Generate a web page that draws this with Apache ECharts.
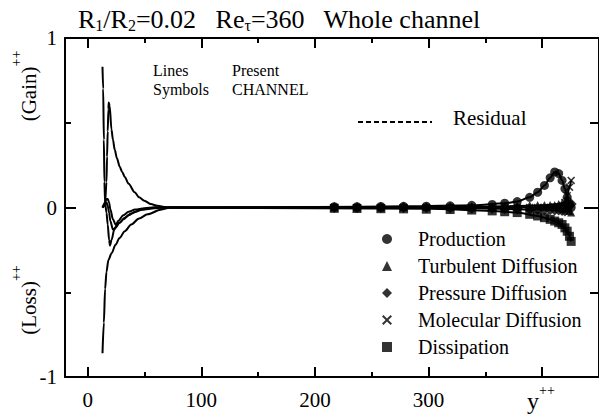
<!DOCTYPE html>
<html><head><meta charset="utf-8">
<script src="https://cdn.jsdelivr.net/npm/echarts@6/dist/echarts.min.js"></script>
<style>html,body{margin:0;padding:0;background:#fff}#c{width:599px;height:419px}</style>
</head><body><div id="c"></div>
<script>
const FONT = 'Liberation Serif';
// ticks / labels
const xTicksMinor = [0, 50, 100, 150, 200, 250, 300, 350, 400];
const xTicksMajor = [0, 100, 200, 300, 400];
const xTickLabels = [0, 100, 200, 300];
const yTicksMinor = [-0.5, 0.5];
const yTicksMajor = [0];
const yTickLabels = [-1, 0, 1];
const termNames = ['Production', 'Turbulent Diffusion', 'Pressure Diffusion', 'Molecular Diffusion', 'Dissipation'];

// Present (lines)
const prodLineX = [13,14.2,15.3,16.5,17,17.6,18.2,18.5,19.3,20.9,22.2,23.8,25.7,28.2,30.3,32.6,36,41.3,45.2,49.8,55.6,61.3,70.5,100,200,280,340,367,378,389,396,402,407,411,414.5,417.5,420,422,424,425.5];
const prodLineY = [0,0.005,0.03,0.15,0.3,0.45,0.58,0.62,0.6,0.46,0.4,0.34,0.29,0.24,0.21,0.18,0.14,0.09,0.06,0.04,0.02,0.01,0,0,0.003,0.007,0.013,0.025,0.035,0.06,0.09,0.13,0.175,0.21,0.2,0.16,0.11,0.06,0.02,0];
const tdLineX = [13,15.3,16.5,17.6,18.8,19.9,22.2,24.5,28,31.4,36,41.8,47.5,59,70.5,100,200,340,390,405,414.5,420,424,425.5];
const tdLineY = [0,0.03,0.05,0.05,0.03,-0.01,-0.07,-0.1,-0.09,-0.07,-0.045,-0.025,-0.013,-0.004,0,0,0,0.004,0.01,0.015,0.02,0.03,-0.01,-0.03];
const pdLineX = [13,15.3,16.5,17.6,18.8,19.9,22.2,24.5,28,32.6,38.3,47.5,59,100,200,340,396,414.5,420,425.5];
const pdLineY = [0,0.02,0.03,0.01,-0.03,-0.08,-0.13,-0.12,-0.09,-0.06,-0.035,-0.012,0,0,0,-0.004,-0.012,-0.015,-0.02,0.02];
const mdLineX = [13,13.6,14.2,14.7,15.3,16.5,17.6,18.8,19.6,21,23.4,26.8,31.4,36,41.8,49.8,59,100,200,340,411,417.5,420,422,424,425.5];
const mdLineY = [0.83,0.7,0.4,0.15,0.03,-0.03,-0.1,-0.19,-0.225,-0.19,-0.13,-0.08,-0.045,-0.025,-0.012,-0.004,0,0,0,0,0.003,0.01,0.03,0.07,0.12,0.16];
const dsLineX = [13,14.2,15.3,16.5,18.2,21,24.5,28,32.6,38.3,45.2,52.7,64.2,72.8,100,200,300,356,378,396,407,414.5,420,422,424,425.5];
const dsLineY = [-0.86,-0.68,-0.48,-0.38,-0.31,-0.27,-0.22,-0.18,-0.14,-0.1,-0.065,-0.04,-0.013,0,-0.002,-0.004,-0.008,-0.02,-0.03,-0.05,-0.07,-0.09,-0.12,-0.14,-0.17,-0.2];

// CHANNEL (symbols)
const chanX = [217,237,258,278,298,319,338,356,367,378,389,396,402,407,411,414.5,417.5,420,422,424,425.5];
const prodSym = [0.005,0.005,0.006,0.007,0.008,0.01,0.013,0.018,0.025,0.035,0.06,0.09,0.13,0.175,0.21,0.2,0.16,0.11,0.06,0.02,0];
const tdSym = [0,0,0,0.002,0.003,0.005,0.006,0.008,0.01,0.012,0.015,0.015,0.015,0.015,0.015,0.02,0.025,0.03,0.01,-0.02,-0.03];
const pdSym = [0,0,0,0,-0.002,-0.003,-0.004,-0.005,-0.006,-0.008,-0.01,-0.012,-0.012,-0.014,-0.015,-0.015,-0.018,-0.02,-0.01,0.01,0.02];
const mdSym = [0,0,0,0,0,0,0,0,0,0,0,0,0,0,0.003,0.005,0.01,0.03,0.07,0.12,0.16];
const dsSym = [-0.005,-0.006,-0.007,-0.008,-0.01,-0.012,-0.015,-0.02,-0.025,-0.03,-0.04,-0.05,-0.06,-0.07,-0.08,-0.09,-0.1,-0.12,-0.14,-0.17,-0.2];

const zip = (xs, ys) => xs.map((x, i) => [x, ys[i]]);
const lines = [[prodLineX, prodLineY], [tdLineX, tdLineY], [pdLineX, pdLineY], [mdLineX, mdLineY], [dsLineX, dsLineY]];
const syms = [prodSym, tdSym, pdSym, mdSym, dsSym];
const symShapes = ['circle', 'triangle', 'diamond', 'path://M0,1.4L1.4,0L5,3.6L8.6,0L10,1.4L6.4,5L10,8.6L8.6,10L5,6.4L1.4,10L0,8.6L3.6,5Z', 'rect'];
const symSizes = [9, 8, 11, 8, 9];

const series = [];
lines.forEach((l, i) => series.push({
  type: 'line', name: termNames[i] + ' (Present)', data: zip(l[0], l[1]),
  showSymbol: false, smooth: 0.3, smoothMonotone: 'x',
  lineStyle: { color: '#000', width: 2 }, z: 2, silent: true
}));
syms.forEach((s, i) => series.push({
  type: 'scatter', name: termNames[i], data: zip(chanX, s),
  symbol: symShapes[i], symbolSize: symSizes[i], symbolKeepAspect: true,
  itemStyle: { color: '#000' }, z: 3
}));

const xBase = { type: 'value', min: -20, max: 450, splitLine: { show: false } };
const yBase = { type: 'value', min: -1, max: 1, splitLine: { show: false } };
const lineSt = { color: '#000', width: 2 };
const tickAxis = (base, pos, vals, len, extra) => Object.assign({}, base, {
  position: pos, axisLine: { show: false, onZero: false },
  axisTick: { inside: true, length: len, customValues: vals, lineStyle: lineSt },
  axisLabel: { show: false }
}, extra || {});
const option = {
  animation: false,
  textStyle: { fontFamily: FONT },
  grid: { left: 65, right: -6, top: 38, bottom: 42 },
  xAxis: [
    tickAxis(xBase, 'bottom', xTicksMinor, 5, { axisLine: { onZero: false, lineStyle: lineSt } }),
    tickAxis(xBase, 'bottom', xTicksMajor, 10, {
      axisLabel: { customValues: xTickLabels, color: '#000', fontSize: 21, fontFamily: FONT, margin: 12 } }),
    tickAxis(xBase, 'top', xTicksMinor, 5, { axisLine: { onZero: false, lineStyle: lineSt } }),
    tickAxis(xBase, 'top', xTicksMajor, 10)
  ],
  yAxis: [
    tickAxis(yBase, 'left', yTicksMinor, 6, { axisLine: { onZero: false, lineStyle: lineSt },
      axisLabel: { customValues: yTickLabels, color: '#000', fontSize: 21, fontFamily: FONT, margin: 8 } }),
    tickAxis(yBase, 'left', yTicksMajor, 11),
    tickAxis(yBase, 'right', yTicksMinor, 9, { axisLine: { onZero: false, lineStyle: lineSt } }),
    tickAxis(yBase, 'right', yTicksMajor, 15)
  ],
  legend: {
    data: termNames, orient: 'vertical', left: 377, top: 224,
    itemWidth: 10, itemHeight: 10, itemGap: 7, selectedMode: false,
    textStyle: { fontFamily: FONT, fontSize: 20, color: '#000', padding: [0, 0, 0, 21] }
  },
  series: series,
  graphic: [
    { type: 'text', x: 78, y: 19, silent: true, style: {
      text: '{m|R}{s|1}{m|/R}{s|2}{m|=0.02   Re}{s|τ}{m|=360   Whole channel}',
      verticalAlign: 'middle', fill: '#000',
      rich: { m: { fontFamily: FONT, fontSize: 26, lineHeight: 28, verticalAlign: 'middle', fill: '#000' },
              s: { fontFamily: FONT, fontSize: 16, lineHeight: 28, verticalAlign: 'bottom', fill: '#000' } } } },
    { type: 'text', x: 153, y: 70, silent: true, style: { text: 'Lines', font: '16px "Liberation Serif"', fill: '#000', verticalAlign: 'middle' } },
    { type: 'text', x: 153, y: 89, silent: true, style: { text: 'Symbols', font: '16px "Liberation Serif"', fill: '#000', verticalAlign: 'middle' } },
    { type: 'text', x: 232, y: 70, silent: true, style: { text: 'Present', font: '16px "Liberation Serif"', fill: '#000', verticalAlign: 'middle' } },
    { type: 'text', x: 232, y: 89, silent: true, style: { text: 'CHANNEL', font: '16px "Liberation Serif"', fill: '#000', verticalAlign: 'middle' } },
    { type: 'line', silent: true, shape: { x1: 358, y1: 122, x2: 432, y2: 122 }, style: { stroke: '#000', lineWidth: 2, lineDash: [5, 3] } },
    { type: 'text', x: 453, y: 118, silent: true, style: { text: 'Residual', font: '21px "Liberation Serif"', fill: '#000', verticalAlign: 'middle' } },
    { type: 'text', x: 527, y: 398, silent: true, style: {
      text: '{m|y}{p|++}', verticalAlign: 'middle', fill: '#000',
      rich: { m: { fontFamily: FONT, fontSize: 24, lineHeight: 30, verticalAlign: 'bottom', fill: '#000' },
              p: { fontFamily: FONT, fontSize: 14, lineHeight: 14, verticalAlign: 'top', fill: '#000' } } } },
    { type: 'text', x: 24, y: 86, rotation: Math.PI / 2, silent: true, style: {
      text: '{m|(Gain)}{p|++}', align: 'center', verticalAlign: 'middle', fill: '#000',
      rich: { m: { fontFamily: FONT, fontSize: 21, lineHeight: 30, verticalAlign: 'bottom', fill: '#000' },
              p: { fontFamily: FONT, fontSize: 14, lineHeight: 14, verticalAlign: 'top', fill: '#000' } } } },
    { type: 'text', x: 24, y: 300, rotation: Math.PI / 2, silent: true, style: {
      text: '{m|(Loss)}{p|++}', align: 'center', verticalAlign: 'middle', fill: '#000',
      rich: { m: { fontFamily: FONT, fontSize: 21, lineHeight: 30, verticalAlign: 'bottom', fill: '#000' },
              p: { fontFamily: FONT, fontSize: 14, lineHeight: 14, verticalAlign: 'top', fill: '#000' } } } }
  ]
};
const chart = echarts.init(document.getElementById('c'), null, { renderer: 'svg' });
chart.setOption(option);
</script></body></html>
